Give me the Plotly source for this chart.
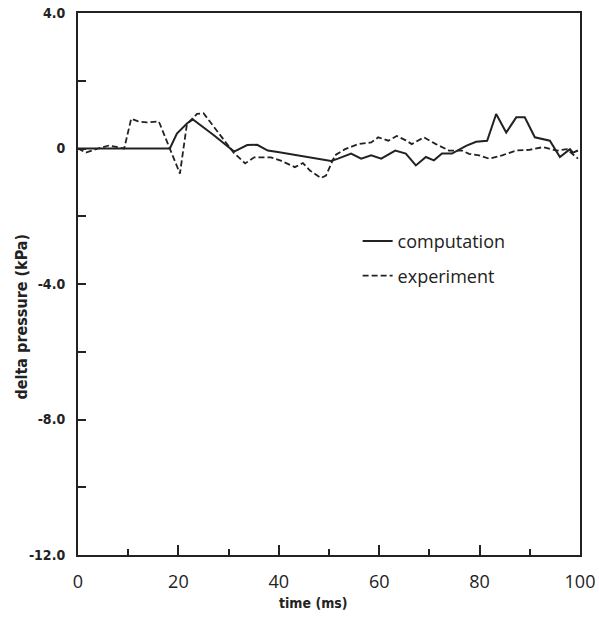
import plotly.graph_objects as go

# computation (solid)
t_comp = [0, 5, 10, 15, 18.3, 19.7, 21.7, 22.9, 27, 31.1, 33.7, 35.7, 37.8, 39.8,
          43.8, 45.8, 47.8, 50.4, 51.8, 54.4, 56.4, 58.4, 60.4, 63.2, 65.3, 67.3,
          69.3, 70.9, 72.5, 74.5, 77.3, 79.3, 81.5, 83.3, 85.3, 87.3, 89, 91, 94,
          96, 98, 98.6, 99.6]
p_comp = [0, 0, 0, 0, 0, 0.44, 0.74, 0.86, 0.4, -0.09, 0.1, 0.11, -0.06, -0.1,
          -0.2, -0.27, -0.3, -0.37, -0.3, -0.15, -0.3, -0.2, -0.3, -0.06, -0.15, -0.5,
          -0.25, -0.35, -0.15, -0.15, 0.08, 0.2, 0.23, 1.02, 0.47, 0.92, 0.92, 0.33, 0.23,
          -0.25, -0.02, -0.12, -0.06]

# experiment (dashed)
t_exp = [0, 1.6, 4, 6.2, 9.2, 10.6, 12, 13.7, 16.1, 20.3, 21.7, 23.7, 25, 28, 31,
         33.3, 35.1, 38.4, 40.4, 43.2, 44.8, 46.2, 48.4, 49.4, 51.2, 53.2, 55.8, 58.4,
         59.8, 61.8, 63.5, 65.3, 66.5, 68.9, 71.3, 73.9, 76.5, 77.9, 79.9, 81.9, 84.5,
         87.3, 89.9, 92.6, 95.4, 97.4, 99.6]
p_exp = [0, -0.12, 0, 0.09, 0, 0.88, 0.8, 0.77, 0.8, -0.74, 0.72, 1.02, 1.04, 0.46, -0.12,
         -0.44, -0.26, -0.26, -0.36, -0.55, -0.43, -0.65, -0.87, -0.8, -0.2, -0.02, 0.13, 0.18,
         0.33, 0.23, 0.37, 0.24, 0.13, 0.33, 0.13, -0.06, -0.06, -0.16, -0.2, -0.3, -0.2,
         -0.06, -0.04, 0.04, -0.06, -0.02, -0.3]

x_ticks = [0, 20, 40, 60, 80, 100]
y_ticks = [4, 0, -4, -8, -12]
y_tick_text = ["4.0", "0", "-4.0", "-8.0", "-12.0"]

INK = "#222222"
BOLD = "DejaVu Sans Condensed, DejaVu Sans"

fig = go.Figure()
fig.add_trace(go.Scatter(x=t_comp, y=p_comp, mode="lines", name="computation",
                         line=dict(color=INK, width=2), legend="legend"))
fig.add_trace(go.Scatter(x=t_exp, y=p_exp, mode="lines", name="experiment",
                         line=dict(color=INK, width=1.8, dash="6px,3px"), legend="legend2"))

legfont = dict(family="Open Sans", size=18, color=INK)
fig.update_layout(
    width=599, height=621,
    margin=dict(l=78, r=19, t=13, b=66),
    paper_bgcolor="white", plot_bgcolor="white",
    showlegend=True,
    legend=dict(x=0.557, y=0.579, xanchor="left", yanchor="middle", font=legfont,
                bgcolor="rgba(0,0,0,0)", itemwidth=30),
    legend2=dict(x=0.557, y=0.515, xanchor="left", yanchor="middle", font=legfont,
                 bgcolor="rgba(0,0,0,0)", itemwidth=30),
    xaxis=dict(range=[0, 100], tickvals=x_ticks, ticks="inside", ticklen=10, tickwidth=1.5,
               tickcolor=INK, showline=True, linecolor=INK, linewidth=2, mirror=True,
               showgrid=False, zeroline=False, ticklabelstandoff=9, automargin=False,
               tickfont=dict(family="Open Sans", size=18, color=INK),
               minor=dict(dtick=10, ticks="inside", ticklen=6, tickwidth=1.5, tickcolor=INK,
                          showgrid=False)),
    yaxis=dict(range=[-12, 4], tickvals=y_ticks, ticktext=y_tick_text, ticks="inside",
               ticklen=8, tickwidth=1.5, tickcolor=INK, showline=True, linecolor=INK,
               linewidth=2, mirror=True, showgrid=False, zeroline=False,
               ticklabelstandoff=8, automargin=False,
               tickfont=dict(family=BOLD, size=14, color=INK, weight="bold"),
               minor=dict(dtick=2, ticks="inside", ticklen=8, tickwidth=1.5, tickcolor=INK,
                          showgrid=False)),
    annotations=[
        dict(text="<b>time (ms)</b>", xref="paper", yref="paper", x=0.47, y=0,
             xanchor="center", yanchor="middle", yshift=-48, showarrow=False,
             font=dict(family=BOLD, size=14, color=INK)),
        dict(text="<b>delta pressure (kPa)</b>", xref="paper", yref="paper", x=0, y=0.44,
             xanchor="center", yanchor="middle", xshift=-56, textangle=-90, showarrow=False,
             font=dict(family=BOLD, size=16, color=INK)),
    ],
)

fig.write_html("out.html")
